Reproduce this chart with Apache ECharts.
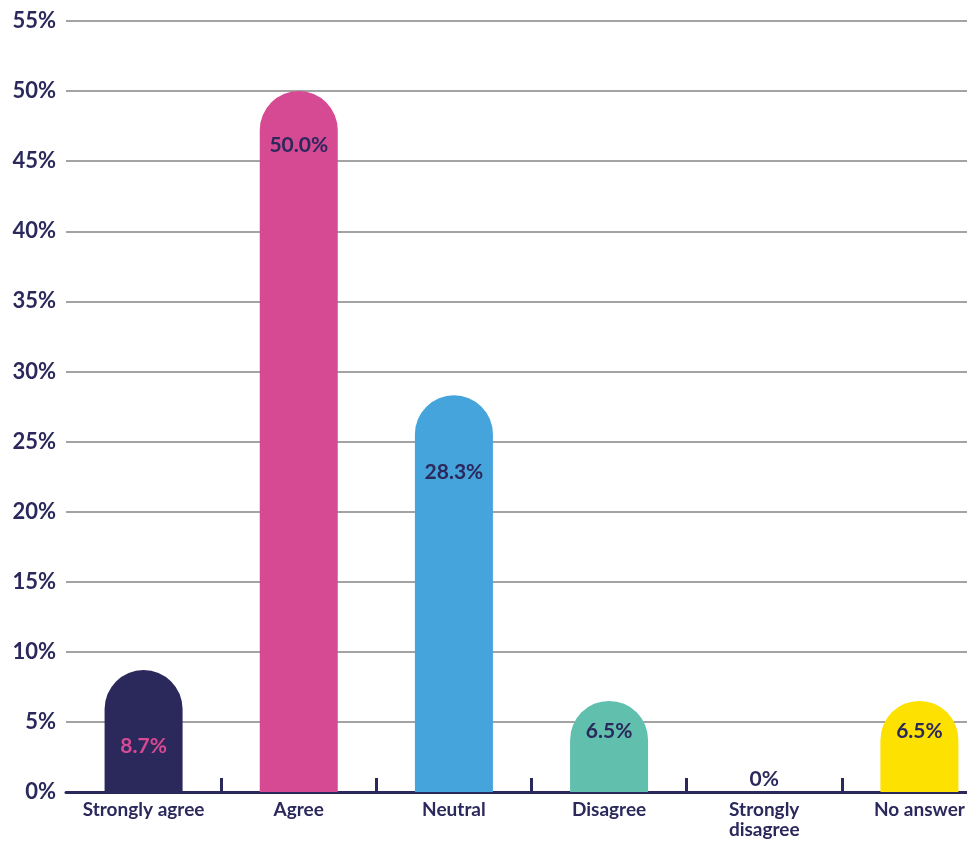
<!DOCTYPE html>
<html><head><meta charset="utf-8">
<script src="https://cdn.jsdelivr.net/npm/echarts@6/dist/echarts.min.js"></script>
<style>html,body{margin:0;padding:0;background:#fff;overflow:hidden}#c{width:967px;height:846px}</style>
</head><body><div id="c"></div>
<script>
const categories = ['Strongly agree', 'Agree', 'Neutral', 'Disagree', 'Strongly\ndisagree', 'No answer'];
const values = [8.7, 50.0, 28.3, 6.5, 0, 6.5];
const valueLabels = ['8.7%', '50.0%', '28.3%', '6.5%', '0%', '6.5%'];
const yTicks = [0, 5, 10, 15, 20, 25, 30, 35, 40, 45, 50, 55];

const colors = ['#2b285c', '#d54a93', '#45a4dc', '#61bfad', '#2b285c', '#fde100'];
const labelColors = ['#d54a93', '#2b285c', '#2b285c', '#2b285c', '#2b285c', '#2b285c'];
const labelDist = [66, 44, 66, 20, 2, 20];
const navy = '#2b285c';
const font = 'Lato';

const gl = 66, plotW = 931;
const band = plotW / categories.length;

const chart = echarts.init(document.getElementById('c'), null, {renderer: 'canvas'});
chart.setOption({
  animation: false,
  grid: [
    {left: gl, width: plotW, top: 21, bottom: 54, containLabel: false, outerBoundsMode: 'none'},
    {left: gl + band, width: plotW - 2 * band, top: 21, bottom: 54, containLabel: false, outerBoundsMode: 'none'}
  ],
  xAxis: [{
    type: 'category', data: categories, gridIndex: 0,
    axisLine: {lineStyle: {color: navy, width: 3}},
    axisTick: {show: false},
    axisLabel: {color: navy, fontFamily: font, fontWeight: 'bold', fontSize: 19, margin: 8, lineHeight: 20, interval: 0}
  }, {
    type: 'category', data: categories.slice(1), gridIndex: 1, boundaryGap: false,
    axisLine: {show: false},
    axisTick: {show: true, inside: true, length: 14, interval: 0,
      lineStyle: {color: navy, width: 3}},
    axisLabel: {show: false}
  }],
  yAxis: [{
    type: 'value', gridIndex: 0, min: yTicks[0], max: yTicks[yTicks.length - 1], interval: 5,
    axisLine: {show: false}, axisTick: {show: false},
    axisLabel: {color: navy, fontFamily: font, fontWeight: 'bold', fontSize: 22, margin: 10, formatter: '{value}%'},
    splitLine: {lineStyle: {color: '#a3a3a3', width: 2}}
  }, {
    type: 'value', gridIndex: 1, min: yTicks[0], max: yTicks[yTicks.length - 1], interval: 5, show: false
  }],
  series: [{
    type: 'bar', barWidth: 78, xAxisIndex: 0, yAxisIndex: 0,
    data: values.map((v, i) => ({
      value: v,
      itemStyle: {color: colors[i], borderRadius: v > 0 ? [39, 39, 0, 0] : 0},
      label: {
        show: true, position: v > 0 ? 'insideTop' : 'top', distance: labelDist[i],
        formatter: valueLabels[i], color: labelColors[i],
        fontFamily: font, fontWeight: 'bold', fontSize: 21
      }
    }))
  }]
});
</script></body></html>
